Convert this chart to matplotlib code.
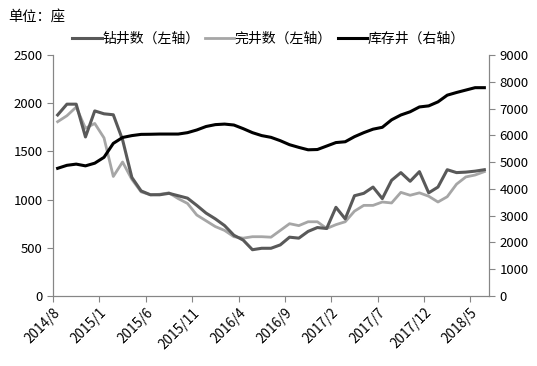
import numpy as np
from matplotlib import pyplot as plt
from matplotlib.lines import Line2D

plt.rcParams['font.family'] = ['Noto Sans CJK SC', 'DejaVu Sans']

# monthly data, 2014/8 .. 2018/6
drilled = [1878, 1990, 1990, 1650, 1920, 1890, 1880, 1620, 1230, 1090,
           1050, 1050, 1065, 1040, 1015, 940, 860, 800, 730, 630,
           580, 480, 495, 495, 530, 610, 600, 670, 710, 700,
           920, 800, 1040, 1065, 1130, 1010, 1200, 1280, 1190, 1290,
           1070, 1130, 1310, 1280, 1285, 1295, 1310]
completed = [1808, 1870, 1960, 1740, 1790, 1640, 1240, 1390, 1210, 1080,
             1050, 1055, 1070, 1010, 960, 840, 780, 720, 680, 615,
             600, 615, 615, 610, 680, 750, 730, 770, 770, 700,
             740, 770, 880, 940, 940, 975, 965, 1075, 1045, 1070,
             1035, 975, 1030, 1160, 1235, 1255, 1290]
inventory = [4768, 4880, 4925, 4860, 4960, 5180, 5700, 5920, 5990, 6036,
             6040, 6048, 6048, 6048, 6100, 6200, 6330, 6400, 6420, 6385,
             6250, 6100, 5990, 5925, 5800, 5650, 5550, 5460, 5470, 5600,
             5730, 5760, 5950, 6100, 6230, 6300, 6580, 6760, 6880, 7060,
             7100, 7250, 7500, 7600, 7690, 7780, 7780]
tickLabels = ['2014/8', '2015/1', '2015/6', '2015/11', '2016/4',
              '2016/9', '2017/2', '2017/7', '2017/12', '2018/5']

x = np.arange(len(drilled)) + 0.5

fig = plt.figure(figsize=(5.37, 3.66), dpi=100)
ax = fig.add_axes([0.0987, 0.1913, 0.8119, 0.6584])
ax2 = ax.twinx()

cDrill = '#595959'
cComp = '#a6a6a6'
ax.plot(x, completed, color=cComp, lw=2.0, zorder=3)
ax.plot(x, drilled, color=cDrill, lw=2.2, zorder=4)
ax2.plot(x, inventory, color='black', lw=2.2)

ax.set_xlim(0, 47)
ax.set_ylim(0, 2500)
ax2.set_ylim(0, 9000)
ax.set_yticks(np.arange(0, 2501, 500))
ax2.set_yticks(np.arange(0, 9001, 1000))
ax.set_xticks(np.arange(0, 46, 5))
ax.set_xticklabels(tickLabels, rotation=45, ha='right', rotation_mode='anchor')

for a in (ax, ax2):
    a.spines['top'].set_visible(False)
    for s in a.spines.values():
        s.set_color('#868686')
    a.tick_params(colors='#868686', labelcolor='black', labelsize=9.5, length=4)
ax.tick_params(axis='x', pad=3, labelsize=9.8)

handles = [Line2D([], [], color=cDrill, lw=2.2),
           Line2D([], [], color=cComp, lw=2.0),
           Line2D([], [], color='black', lw=2.2)]
fig.legend(handles, ['钻井数（左轴）', '完井数（左轴）', '库存井（右轴）'],
           loc='center', bbox_to_anchor=(0.50, 0.893), ncol=3, frameon=False,
           fontsize=10, handlelength=2.1, handletextpad=0.05, columnspacing=0.4)
fig.text(0.015, 0.955, '单位：座', fontsize=10.3, va='center', ha='left')

fig.savefig('out.png', dpi=100)
